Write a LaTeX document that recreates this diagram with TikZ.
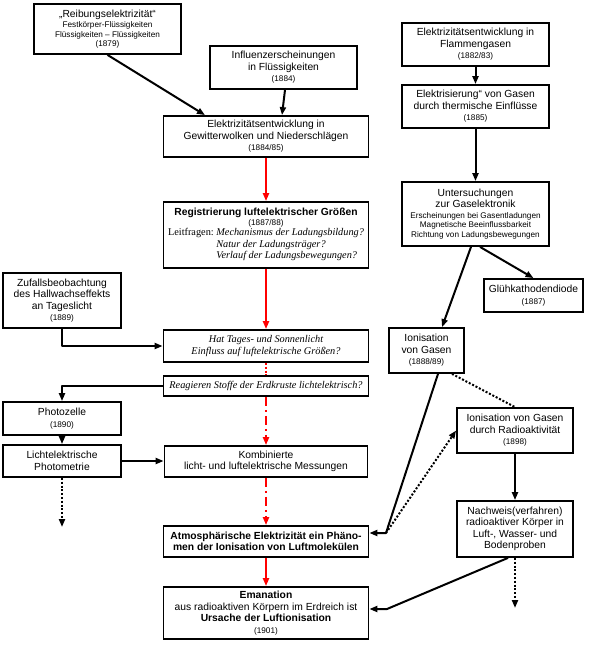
\documentclass[tikz,border=0pt]{standalone}
\usepackage{fontspec}
\setmainfont{Liberation Sans}
\newfontfamily\serif{Liberation Serif}
\usetikzlibrary{arrows.meta}
\newcommand{\yr}[1]{{\fontsize{8.2}{9.5}\selectfont #1}}
\newcommand{\frage}[1]{{\serif\itshape #1}}
\begin{document}
\begin{tikzpicture}[x=1pt, y=-1pt,
  box/.style={draw, line width=1.8pt, align=center, inner sep=1pt, font=\fontsize{10.3}{11.5}\selectfont},
  arr/.style={line width=2pt, line join=round, -{Triangle[length=8pt,width=6pt]}},
  red arr/.style={arr, red},
  dots/.style={line width=2pt, dash pattern=on 2pt off 1.8pt},
  dashdot/.style={dash pattern=on 9pt off 4pt on 2pt off 4pt}]
  \useasboundingbox (0,0) rectangle (591,645);
  \node[box, minimum width=147pt, minimum height=50pt] (reib) at (107.5,29) {„Reibungselektrizität“\\[-1pt] \yr{Festkörper-Flüssigkeiten}\\[-2pt] \yr{Flüssigkeiten – Flüssigkeiten}\\[-2pt] \yr{(1879)}};
  \node[box, minimum width=147pt, minimum height=43pt] (influ) at (283.5,67.5) {Influenzerscheinungen\\ in Flüssigkeiten\\ \yr{(1884)}};
  \node[box, minimum width=205pt, minimum height=41pt] (gewit) at (266,136.5) {Elektrizitätsentwicklung in\\ Gewitterwolken und Niederschlägen\\ \yr{(1884/85)}};
  \node[box, minimum width=147pt, minimum height=43pt] (flamm) at (475.5,44.5) {Elektrizitätsentwicklung in\\ Flammengasen\\ \yr{(1882/83)}};
  \node[box, minimum width=147pt, minimum height=43pt] (therm) at (475.5,106.5) {Elektrisierung“ von Gasen\\ durch thermische Einflüsse\\ \yr{(1885)}};
  \node[box, minimum width=147pt, minimum height=64pt] (gasel) at (475.5,214) {Untersuchungen\\ zur Gaselektronik\\[-1pt] \yr{Erscheinungen bei Gasentladungen}\\[-2pt] \yr{Magnetische Beeinflussbarkeit}\\[-2pt] \yr{Richtung von Ladungsbewegungen}};
  \node[box, minimum width=205pt, minimum height=66pt] (regis) at (266,235) {\textbf{Registrierung luftelektrischer Größen}\\[-1pt] \yr{(1887/88)}\\[-1pt] {\serif\begin{tabular}{@{}r@{\ }l@{}}Leitfragen: & \textit{Mechanismus der Ladungsbildung?}\\ & \textit{Natur der Ladungsträger?}\\ & \textit{Verlauf der Ladungsbewegungen?}\end{tabular}}};
  \node[box, minimum width=118pt, minimum height=55pt] (zufall) at (62,300.5) {Zufallsbeobachtung\\ des Hallwachseffekts\\ an Tageslicht\\ \yr{(1889)}};
  \node[box, minimum width=99pt, minimum height=33pt] (gluh) at (533.5,295.5) {Glühkathodendiode\\ \yr{(1887)}};
  \node[box, minimum width=75pt, minimum height=45pt] (ion) at (426.5,350.5) {Ionisation\\ von Gasen\\ \yr{(1888/89)}};
  \node[box, minimum width=205pt, minimum height=32pt] (hat) at (266,346) {\frage{Hat Tages- und Sonnenlicht}\\ \frage{Einfluss auf luftelektrische Größen?}};
  \node[box, minimum width=205pt, minimum height=20pt] (reag) at (266,386) {\frage{Reagieren Stoffe der Erdkruste lichtelektrisch?}};
  \node[box, minimum width=116pt, minimum height=45pt] (radio) at (515,430.5) {Ionisation von Gasen\\ durch Radioaktivität\\ \yr{(1898)}};
  \node[box, minimum width=118pt, minimum height=33pt] (photoz) at (62,418.5) {Photozelle\\ \yr{(1890)}};
  \node[box, minimum width=118pt, minimum height=32pt] (photom) at (62,461) {Lichtelektrische\\ Photometrie};
  \node[box, minimum width=203pt, minimum height=31pt] (kombi) at (266,461.5) {Kombinierte\\ licht- und luftelektrische Messungen};
  \node[box, minimum width=116pt, minimum height=56pt] (nachw) at (515,529) {Nachweis(verfahren)\\ radioaktiver Körper in\\ Luft-, Wasser- und\\ Bodenproben};
  \node[box, minimum width=205pt, minimum height=31pt] (atmos) at (266,541.5) {\textbf{Atmosphärische Elektrizität ein Phäno-}\\ \textbf{men der Ionisation von Luftmolekülen}};
  \node[box, minimum width=205pt, minimum height=52pt] (eman) at (266,613) {\textbf{Emanation}\\ aus radioaktiven Körpern im Erdreich ist\\ \textbf{Ursache der Luftionisation}\\ \yr{(1901)}};
  \coordinate (j1) at (386,533);
  \coordinate (j2) at (387,609);
  \coordinate (photom end) at (62,527);
  \coordinate (nachw end) at (515,608);
  \draw[arr] (reib.south) -- ([xshift=-61pt]gewit.north);
  \draw[arr] ([xshift=1.5pt]influ.south) -- ([xshift=16pt]gewit.north);
  \draw[arr] (flamm) -- (therm);
  \draw[arr] (therm) -- (gasel);
  \draw[arr] ([xshift=-4.5pt]gasel.south) -- ([xshift=15.5pt]ion.north);
  \draw[arr] ([xshift=4.5pt]gasel.south) -- (gluh.north);
  \draw[red arr] (gewit) -- (regis);
  \draw[red arr] (regis) -- (hat);
  \draw[dots, red] (hat) -- (reag);
  \draw[red arr, dashdot] (reag) -- (kombi);
  \draw[red arr, dashdot] (kombi) -- (atmos);
  \draw[red arr] (atmos) -- (eman);
  \draw[arr] (zufall.south) |- (hat.west);
  \draw[arr] (reag.west) -| (photoz.north);
  \draw[arr] (photoz) -- (photom);
  \draw[arr] (photom.east) -- (photom.east -| kombi.west);
  \draw[arr, dots] (photom) -- (photom end);
  \draw[arr] ([xshift=11.5pt]ion.south) -- (j1) -- (j1 -| atmos.east);
  \draw[arr, dots] (j1) -- (radio.west);
  \draw[dots] ([xshift=25.5pt]ion.south) -- (radio.north);
  \draw[arr] (radio) -- (nachw);
  \draw[arr] ([xshift=-7pt]nachw.south) -- (j2) -- (j2 -| eman.east);
  \draw[arr, dots] (nachw) -- (nachw end);
\end{tikzpicture}
\end{document}
